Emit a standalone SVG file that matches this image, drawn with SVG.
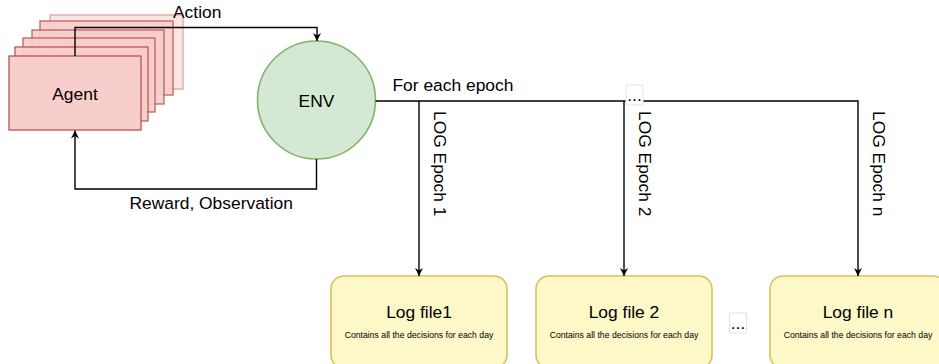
<svg xmlns="http://www.w3.org/2000/svg" width="939" height="364" viewBox="0 0 939 364">
  <style>
    text { font-family: "Liberation Sans", Arial, sans-serif; fill: #000; }
    .lbl { font-size: 17.4px; }
    .small { font-size: 8.7px; }
    .agent { fill: #f8cecc; stroke: #b85450; stroke-width: 1.3; }
    .env { fill: #d5e8d4; stroke: #82b366; stroke-width: 1.6; }
    .log { fill: #fcf8c8; stroke: #d6c35a; stroke-width: 1.6; }
    .edge { fill: none; stroke: #000; stroke-width: 1.4; }
    .dots { fill: #fff; stroke: #e3e3e3; stroke-width: 1; }
  </style>
  <defs>
    <marker id="arrow" viewBox="0 0 10 10" refX="10" refY="5" markerWidth="8" markerHeight="8" markerUnits="userSpaceOnUse" orient="auto">
      <path d="M0,0 L10,5 L0,10 L3,5 Z" fill="#000"/>
    </marker>
  </defs>

  <!-- agent stack (copies behind the main agent) -->
  <g id="agent">
    <rect class="agent" x="50" y="15" width="133" height="74" opacity="0.5"/>
    <rect class="agent" x="40" y="21" width="133" height="74" opacity="0.9"/>
    <rect class="agent" x="32" y="30" width="132" height="74" opacity="0.9"/>
    <rect class="agent" x="23" y="38" width="132" height="74" opacity="0.9"/>
    <rect class="agent" x="15" y="47" width="133" height="74" opacity="0.95"/>
    <rect class="agent" x="9" y="56" width="132" height="74"/>
    <text class="lbl" x="75" y="99.5" text-anchor="middle">Agent</text>
  </g>

  <g id="env">
    <circle class="env" cx="316.5" cy="100" r="59"/>
    <text class="lbl" x="316.5" y="106.5" text-anchor="middle">ENV</text>
  </g>

  <g id="log1">
    <rect class="log" x="331" y="276" width="176" height="92" rx="13"/>
    <text class="lbl" x="419" y="317.5" text-anchor="middle">Log file1</text>
    <text class="small" x="419" y="337.5" text-anchor="middle">Contains all the decisions for each day</text>
  </g>

  <g id="log2">
    <rect class="log" x="536" y="276" width="176" height="92" rx="13"/>
    <text class="lbl" x="624" y="317.5" text-anchor="middle">Log file 2</text>
    <text class="small" x="624" y="337.5" text-anchor="middle">Contains all the decisions for each day</text>
  </g>

  <g id="logn">
    <rect class="log" x="770" y="276" width="176" height="92" rx="13"/>
    <text class="lbl" x="858" y="317.5" text-anchor="middle">Log file n</text>
    <text class="small" x="858" y="337.5" text-anchor="middle">Contains all the decisions for each day</text>
  </g>

  <!-- connectors -->
  <g id="connectors">
    <path class="edge" d="M75,56 V27.5 H317 V41" marker-end="url(#arrow)"/>
    <path class="edge" d="M316.5,159 V189 H75 V130.5" marker-end="url(#arrow)"/>
    <path class="edge" d="M375.5,101 H858 V276" marker-end="url(#arrow)"/>
    <path class="edge" d="M419,101 V276" marker-end="url(#arrow)"/>
    <path class="edge" d="M624,101 V276" marker-end="url(#arrow)"/>

    <text class="lbl" x="173" y="17.5">Action</text>
    <text class="lbl" x="129.5" y="208.7">Reward, Observation</text>
    <text class="lbl" x="392.5" y="91.3">For each epoch</text>
    <text class="lbl" transform="translate(434,111) rotate(90)">LOG Epoch 1</text>
    <text class="lbl" transform="translate(638.5,111) rotate(90)">LOG Epoch 2</text>
    <text class="lbl" transform="translate(872.5,111) rotate(90)">LOG Epoch n</text>
  </g>

  <!-- ellipsis markers -->
  <g id="dots-top">
    <rect class="dots" x="626" y="85" width="17" height="20"/>
    <text class="lbl" x="634.5" y="101" text-anchor="middle">...</text>
  </g>
  <g id="dots-bottom">
    <rect class="dots" x="729.5" y="313" width="17" height="20"/>
    <text class="lbl" x="738" y="329" text-anchor="middle">...</text>
  </g>
</svg>
